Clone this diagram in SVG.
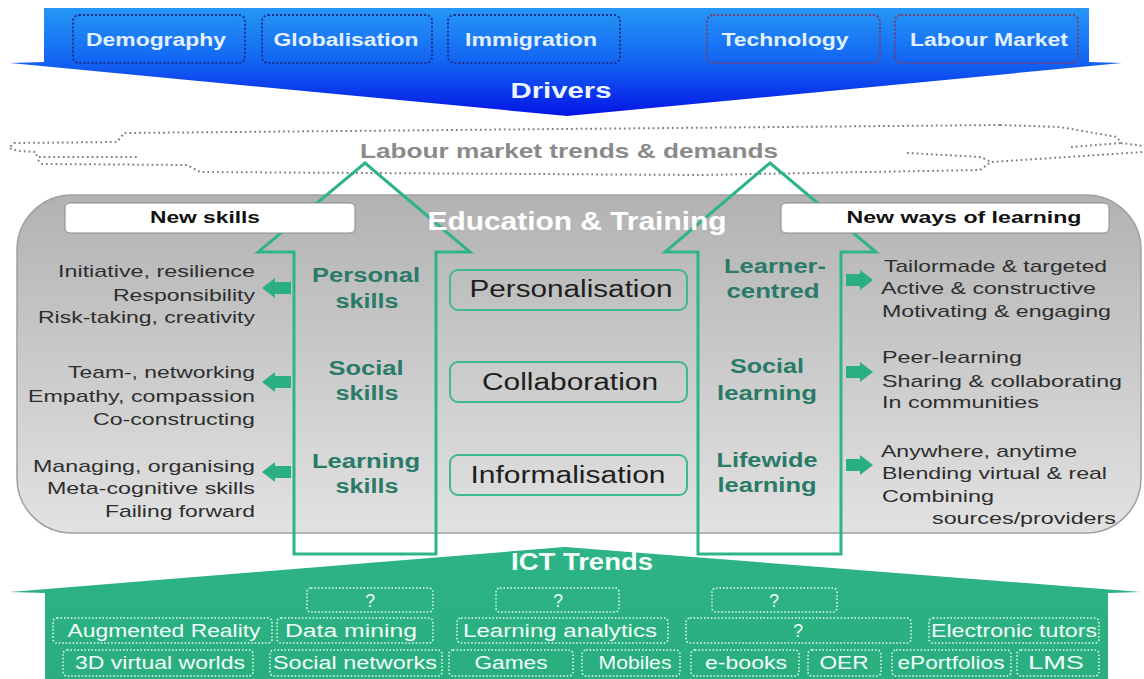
<svg xmlns="http://www.w3.org/2000/svg" width="1144" height="679" viewBox="0 0 1144 679">
<defs>
<linearGradient id="blueG" x1="0" y1="0" x2="0" y2="1">
<stop offset="0" stop-color="#2597f6"/>
<stop offset="0.5" stop-color="#1264f2"/>
<stop offset="1" stop-color="#0414e6"/>
</linearGradient>
<linearGradient id="panelG" x1="0" y1="0" x2="0" y2="1">
<stop offset="0" stop-color="#b2b2b2"/>
<stop offset="0.45" stop-color="#c8c8c8"/>
<stop offset="1" stop-color="#e2e2e2"/>
</linearGradient>
<linearGradient id="greenG" x1="0" y1="0" x2="0" y2="1">
<stop offset="0" stop-color="#2db386"/>
<stop offset="1" stop-color="#2aae80"/>
</linearGradient>
<polygon id="arrL" points="262,0 275,-10 275,-6 291,-6 291,6 275,6 275,10"/>
<polygon id="arrR" points="846,-6 860,-6 860,-10 873,0 860,10 860,6 846,6"/>
</defs>
<style>
text{font-family:"Liberation Sans",Arial,sans-serif}
.drv{fill:none;stroke:#1b2f8f;stroke-width:2;stroke-dasharray:2 2}
.drv2{fill:none;stroke:#7a3b6e;stroke-width:2;stroke-dasharray:2 2}
.drvt{font-size:18px;font-weight:bold;fill:#e2f0ff;text-anchor:middle}
.cloud{fill:none;stroke:#808080;stroke-width:2;stroke-dasharray:1.8 3;stroke-linejoin:round}
.hdr{fill:#ffffff;stroke:#8a8a8a;stroke-width:1}
.hdrt{font-size:17px;font-weight:bold;fill:#111;text-anchor:middle}
.desc{font-size:17px;fill:#2e2e2e}
.dl{text-anchor:end}
.lab{font-size:20px;font-weight:bold;fill:#2a7a68;text-anchor:middle}
.mid{fill:none;stroke:#3db891;stroke-width:2}
.midt{font-size:23px;fill:#1e1e1e;text-anchor:middle}
.big{fill:none;stroke:#2fb48a;stroke-width:3;stroke-linejoin:miter}
.sm{fill:#2aaf80}
.ict{fill:none;stroke:#e4fff2;stroke-width:1.5;stroke-dasharray:1.5 2}
.ictt{font-size:17.5px;fill:#f2fff9;text-anchor:middle}
</style>

<g id="drivers-band">
<path d="M44,8 L1089,8 L1089,62 L1122,63 L567,116 L10,63 L44,62 Z" fill="url(#blueG)"/>
<text x="561" y="98" font-size="22" font-weight="bold" fill="#eef4ff" text-anchor="middle" textLength="101" lengthAdjust="spacingAndGlyphs">Drivers</text>
</g>
<g id="driver-demography"><rect class="drv" x="73" y="15" width="172" height="48" rx="6"/><text class="drvt" x="156" y="46" textLength="140" lengthAdjust="spacingAndGlyphs">Demography</text></g>
<g id="driver-globalisation"><rect class="drv" x="262" y="15" width="170" height="48" rx="6"/><text class="drvt" x="346" y="46" textLength="145" lengthAdjust="spacingAndGlyphs">Globalisation</text></g>
<g id="driver-immigration"><rect class="drv" x="448" y="15" width="172" height="48" rx="6"/><text class="drvt" x="531" y="46" textLength="132" lengthAdjust="spacingAndGlyphs">Immigration</text></g>
<g id="driver-technology"><rect class="drv2" x="707" y="15" width="173" height="48" rx="6"/><text class="drvt" x="785" y="46" textLength="127" lengthAdjust="spacingAndGlyphs">Technology</text></g>
<g id="driver-labour-market"><rect class="drv2" x="895" y="15" width="183" height="48" rx="6"/><text class="drvt" x="989" y="46" textLength="158" lengthAdjust="spacingAndGlyphs">Labour Market</text></g>

<g id="labour-market-trends">
<path class="cloud" d="M1000,125 L124,133 L117,142 L14,143 L9,148 L18,151 L36,152 L37,157 L137,157"/>
<path class="cloud" d="M38,160 L42,164 L187,165 L200,172 L700,175 L980,170 L991,162 L1144,152"/>
<path class="cloud" d="M907,153 L981,157 L991,162"/>
<path class="cloud" d="M1000,125 L1060,127 L1117,137 L1121,143 L1144,146"/>
<path class="cloud" d="M1071,147 L1121,143"/>
<text x="569" y="158" font-size="21" font-weight="bold" fill="#8a8a8a" text-anchor="middle" textLength="418" lengthAdjust="spacingAndGlyphs">Labour market trends &amp; demands</text>
</g>

<g id="education-training-panel">
<rect x="17" y="195" width="1124" height="338" rx="55" ry="55" fill="url(#panelG)" stroke="#a0a0a0" stroke-width="1.5"/>
</g>

<g id="connectors">
<path class="big" d="M365,163 L470,252 L436,252 L436,554 L294,554 L294,252 L258,252 Z"/>
<path class="big" d="M770,163 L876,252 L841,252 L841,554 L698,554 L698,252 L665,252 Z"/>
<use href="#arrL" class="sm" y="288"/>
<use href="#arrL" class="sm" y="382"/>
<use href="#arrL" class="sm" y="472"/>
<use href="#arrR" class="sm" y="280"/>
<use href="#arrR" class="sm" y="372"/>
<use href="#arrR" class="sm" y="465"/>
</g>

<g id="new-skills"><rect class="hdr" x="65" y="203" width="290" height="30" rx="5"/><text class="hdrt" x="205" y="223" textLength="110" lengthAdjust="spacingAndGlyphs">New skills</text></g>
<g id="new-ways-of-learning"><rect class="hdr" x="781" y="203" width="328" height="30" rx="5"/><text class="hdrt" x="964" y="223" textLength="235" lengthAdjust="spacingAndGlyphs">New ways of learning</text></g>
<g id="education-training-title"><text x="577" y="230" font-size="25" font-weight="bold" fill="#ffffff" text-anchor="middle" textLength="299" lengthAdjust="spacingAndGlyphs">Education &amp; Training</text></g>

<g id="personalisation"><rect class="mid" x="450" y="270" width="237" height="40" rx="8"/><text class="midt" x="571" y="297" textLength="203" lengthAdjust="spacingAndGlyphs">Personalisation</text></g>
<g id="collaboration"><rect class="mid" x="450" y="362" width="237" height="40" rx="8"/><text class="midt" x="570" y="390" textLength="176" lengthAdjust="spacingAndGlyphs">Collaboration</text></g>
<g id="informalisation"><rect class="mid" x="450" y="455" width="237" height="40" rx="8"/><text class="midt" x="568" y="483" textLength="195" lengthAdjust="spacingAndGlyphs">Informalisation</text></g>

<g id="personal-skills">
<text class="lab" x="366" y="282" textLength="108" lengthAdjust="spacingAndGlyphs">Personal</text>
<text class="lab" x="367" y="308" textLength="63" lengthAdjust="spacingAndGlyphs">skills</text>
</g>
<g id="social-skills">
<text class="lab" x="366" y="375" textLength="75" lengthAdjust="spacingAndGlyphs">Social</text>
<text class="lab" x="367" y="400" textLength="63" lengthAdjust="spacingAndGlyphs">skills</text>
</g>
<g id="learning-skills">
<text class="lab" x="366" y="468" textLength="108" lengthAdjust="spacingAndGlyphs">Learning</text>
<text class="lab" x="367" y="493" textLength="63" lengthAdjust="spacingAndGlyphs">skills</text>
</g>
<g id="learner-centred">
<text class="lab" x="775" y="273" textLength="102" lengthAdjust="spacingAndGlyphs">Learner-</text>
<text class="lab" x="773" y="298" textLength="93" lengthAdjust="spacingAndGlyphs">centred</text>
</g>
<g id="social-learning">
<text class="lab" x="767" y="373" textLength="74" lengthAdjust="spacingAndGlyphs">Social</text>
<text class="lab" x="767" y="400" textLength="100" lengthAdjust="spacingAndGlyphs">learning</text>
</g>
<g id="lifewide-learning">
<text class="lab" x="767" y="467" textLength="101" lengthAdjust="spacingAndGlyphs">Lifewide</text>
<text class="lab" x="767" y="492" textLength="99" lengthAdjust="spacingAndGlyphs">learning</text>
</g>

<g id="personal-skills-list">
<text class="desc dl" x="255" y="277" textLength="197" lengthAdjust="spacingAndGlyphs">Initiative, resilience</text>
<text class="desc dl" x="255" y="301" textLength="142" lengthAdjust="spacingAndGlyphs">Responsibility</text>
<text class="desc dl" x="255" y="323" textLength="217" lengthAdjust="spacingAndGlyphs">Risk-taking, creativity</text>
</g>
<g id="social-skills-list">
<text class="desc dl" x="255" y="378" textLength="187" lengthAdjust="spacingAndGlyphs">Team-, networking</text>
<text class="desc dl" x="255" y="402" textLength="227" lengthAdjust="spacingAndGlyphs">Empathy, compassion</text>
<text class="desc dl" x="255" y="425" textLength="162" lengthAdjust="spacingAndGlyphs">Co-constructing</text>
</g>
<g id="learning-skills-list">
<text class="desc dl" x="255" y="472" textLength="222" lengthAdjust="spacingAndGlyphs">Managing, organising</text>
<text class="desc dl" x="255" y="494" textLength="208" lengthAdjust="spacingAndGlyphs">Meta-cognitive skills</text>
<text class="desc dl" x="255" y="517" textLength="150" lengthAdjust="spacingAndGlyphs">Failing forward</text>
</g>
<g id="learner-centred-list">
<text class="desc" x="884" y="272" textLength="223" lengthAdjust="spacingAndGlyphs">Tailormade &amp; targeted</text>
<text class="desc" x="881" y="294" textLength="215" lengthAdjust="spacingAndGlyphs">Active &amp; constructive</text>
<text class="desc" x="882" y="317" textLength="229" lengthAdjust="spacingAndGlyphs">Motivating &amp; engaging</text>
</g>
<g id="social-learning-list">
<text class="desc" x="882" y="363" textLength="140" lengthAdjust="spacingAndGlyphs">Peer-learning</text>
<text class="desc" x="882" y="387" textLength="240" lengthAdjust="spacingAndGlyphs">Sharing &amp; collaborating</text>
<text class="desc" x="882" y="408" textLength="157" lengthAdjust="spacingAndGlyphs">In communities</text>
</g>
<g id="lifewide-learning-list">
<text class="desc" x="881" y="457" textLength="196" lengthAdjust="spacingAndGlyphs">Anywhere, anytime</text>
<text class="desc" x="882" y="479" textLength="225" lengthAdjust="spacingAndGlyphs">Blending virtual &amp; real</text>
<text class="desc" x="882" y="502" textLength="112" lengthAdjust="spacingAndGlyphs">Combining</text>
<text class="desc" x="932" y="524" textLength="184" lengthAdjust="spacingAndGlyphs">sources/providers</text>
</g>

<g id="ict-band">
<path d="M45,679 L45,593 L10,592 L565,547 L1141,592 L1108,593 L1108,679 Z" fill="url(#greenG)"/>
<text x="582" y="570" font-size="23" font-weight="bold" fill="#f4fffa" text-anchor="middle" textLength="142" lengthAdjust="spacingAndGlyphs">ICT Trends</text>
</g>
<g id="ict-q1"><rect class="ict" x="307" y="588" width="126" height="24" rx="4"/><text class="ictt" x="370" y="607">?</text></g>
<g id="ict-q2"><rect class="ict" x="496" y="588" width="123" height="24" rx="4"/><text class="ictt" x="558" y="607">?</text></g>
<g id="ict-q3"><rect class="ict" x="712" y="588" width="125" height="24" rx="4"/><text class="ictt" x="774" y="607">?</text></g>
<g id="ict-augmented-reality"><rect class="ict" x="53" y="618" width="219" height="25" rx="4"/><text class="ictt" x="164" y="637" textLength="193" lengthAdjust="spacingAndGlyphs">Augmented Reality</text></g>
<g id="ict-data-mining"><rect class="ict" x="277" y="618" width="156" height="25" rx="4"/><text class="ictt" x="351" y="637" textLength="132" lengthAdjust="spacingAndGlyphs">Data mining</text></g>
<g id="ict-learning-analytics"><rect class="ict" x="457" y="618" width="211" height="25" rx="4"/><text class="ictt" x="560" y="637" textLength="194" lengthAdjust="spacingAndGlyphs">Learning analytics</text></g>
<g id="ict-q4"><rect class="ict" x="686" y="618" width="225" height="25" rx="4"/><text class="ictt" x="798" y="637">?</text></g>
<g id="ict-electronic-tutors"><rect class="ict" x="929" y="618" width="170" height="25" rx="4"/><text class="ictt" x="1014" y="637" textLength="166" lengthAdjust="spacingAndGlyphs">Electronic tutors</text></g>
<g id="ict-3d-virtual-worlds"><rect class="ict" x="63" y="650" width="190" height="26" rx="4"/><text class="ictt" x="160" y="669" textLength="170" lengthAdjust="spacingAndGlyphs">3D virtual worlds</text></g>
<g id="ict-social-networks"><rect class="ict" x="270" y="650" width="172" height="26" rx="4"/><text class="ictt" x="355" y="669" textLength="164" lengthAdjust="spacingAndGlyphs">Social networks</text></g>
<g id="ict-games"><rect class="ict" x="449" y="650" width="124" height="26" rx="4"/><text class="ictt" x="511" y="669" textLength="73" lengthAdjust="spacingAndGlyphs">Games</text></g>
<g id="ict-mobiles"><rect class="ict" x="582" y="650" width="98" height="26" rx="4"/><text class="ictt" x="635" y="669" textLength="73" lengthAdjust="spacingAndGlyphs">Mobiles</text></g>
<g id="ict-e-books"><rect class="ict" x="691" y="650" width="108" height="26" rx="4"/><text class="ictt" x="746" y="669" textLength="82" lengthAdjust="spacingAndGlyphs">e-books</text></g>
<g id="ict-oer"><rect class="ict" x="808" y="650" width="73" height="26" rx="4"/><text class="ictt" x="844" y="669" textLength="49" lengthAdjust="spacingAndGlyphs">OER</text></g>
<g id="ict-eportfolios"><rect class="ict" x="892" y="650" width="119" height="26" rx="4"/><text class="ictt" x="951" y="669" textLength="107" lengthAdjust="spacingAndGlyphs">ePortfolios</text></g>
<g id="ict-lms"><rect class="ict" x="1017" y="650" width="82" height="26" rx="4"/><text class="ictt" x="1056" y="669" textLength="56" lengthAdjust="spacingAndGlyphs">LMS</text></g>
</svg>
